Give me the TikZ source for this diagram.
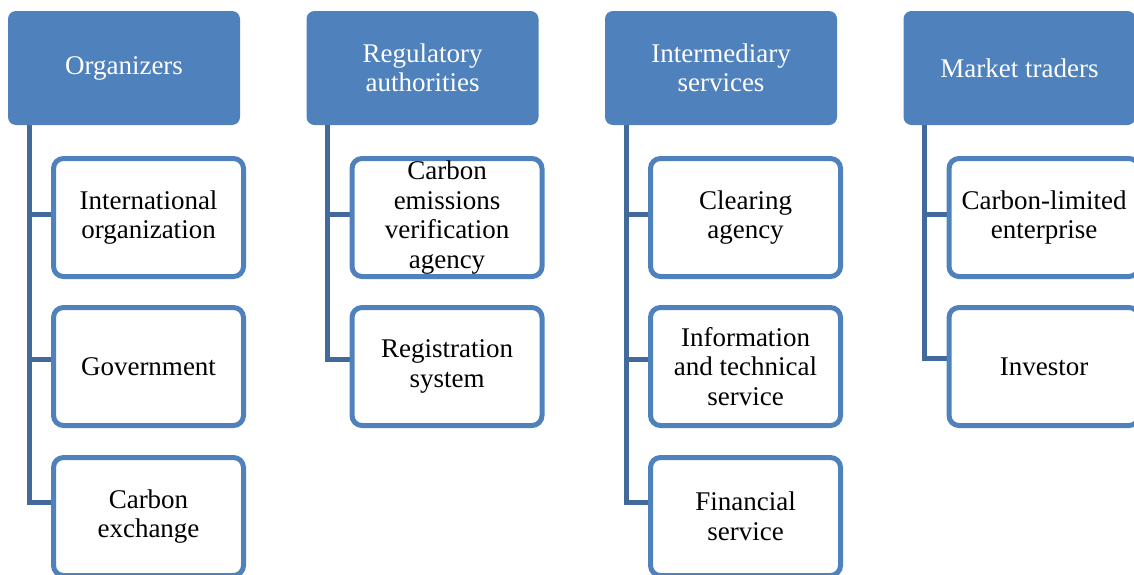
\documentclass[tikz,border=0pt]{standalone}
\usepackage{fontspec}
\setmainfont{Liberation Serif}
\usetikzlibrary{backgrounds}
\definecolor{hdrblue}{HTML}{4F81BD}
\definecolor{linkblue}{HTML}{41699B}

\begin{document}
\begin{tikzpicture}[x=0.5pt,y=-0.5pt,
  hdr/.style={fill=hdrblue, rounded corners=4pt, minimum width=116pt,
    minimum height=57pt, inner sep=0pt, align=center, text=white,
    font=\fontsize{13.5}{14.75}\selectfont},
  item/.style={draw=hdrblue, line width=2.5pt, fill=white, rounded corners=5pt,
    minimum width=95pt, minimum height=59pt, inner sep=0pt, align=center,
    text=black, font=\fontsize{13.5}{14.75}\selectfont},
  link/.style={draw=linkblue, line width=2.5pt}]
\useasboundingbox (0,0) rectangle (1134,574);
\clip (0,0) rectangle (1134,574);

% column 1
\node[hdr]  (h1)  at (124,68)     {Organizers};
\node[item] (c11) at (148.5,217.5) {International\\organization};
\node[item] (c12) at (148.5,366.5) {Government};
\node[item] (c13) at (148.5,516.5) {Carbon\\exchange};

% column 2
\node[hdr]  (h2)  at (422.5,68)   {Regulatory\\authorities};
\node[item] (c21) at (447,217.5)  {Carbon\\emissions\\verification\\agency};
\node[item] (c22) at (447,366.5)  {Registration\\system};

% column 3
\node[hdr]  (h3)  at (721,68)     {Intermediary\\services};
\node[item] (c31) at (745.5,217.5) {Clearing\\agency};
\node[item] (c32) at (745.5,366.5) {Information\\and technical\\service};
\node[item] (c33) at (745.5,516.5) {Financial\\service};

% column 4
\node[hdr]  (h4)  at (1019.5,68)  {Market traders};
\node[item] (c41) at (1044,217.5) {Carbon-limited\\enterprise};
\node[item] (c42) at (1044,366.5) {Investor};

% elbow connectors behind the boxes
\begin{scope}[on background layer]
  \draw[link] ([xshift=10.75pt]h1.south west) |- ([yshift=1.75pt]c11.west);
  \draw[link] ([xshift=10.75pt]h1.south west) |- ([yshift=3.75pt]c12.west);
  \draw[link] ([xshift=10.75pt]h1.south west) |- ([yshift=7.25pt]c13.west);
  \draw[link] ([xshift=10.75pt]h2.south west) |- ([yshift=1.75pt]c21.west);
  \draw[link] ([xshift=10.75pt]h2.south west) |- ([yshift=3.5pt]c22.west);
  \draw[link] ([xshift=10.75pt]h3.south west) |- ([yshift=1.75pt]c31.west);
  \draw[link] ([xshift=10.75pt]h3.south west) |- ([yshift=3.75pt]c32.west);
  \draw[link] ([xshift=10.75pt]h3.south west) |- ([yshift=7.25pt]c33.west);
  \draw[link] ([xshift=10.75pt]h4.south west) |- ([yshift=1.75pt]c41.west);
  \draw[link] ([xshift=10.75pt]h4.south west) |- ([yshift=4pt]c42.west);
\end{scope}
\end{tikzpicture}
\end{document}
